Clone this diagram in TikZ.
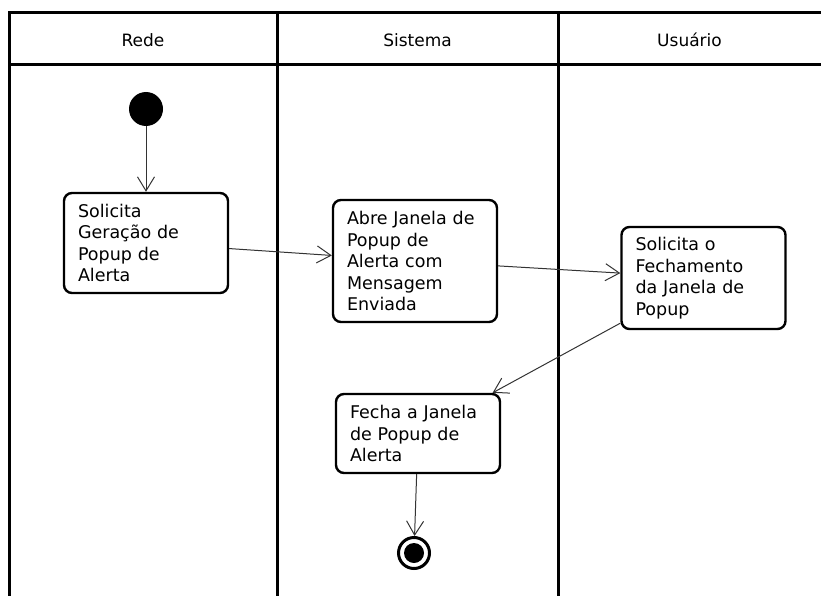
\documentclass[tikz,border=0pt]{standalone}
\usepackage{fontspec}
\setmainfont{DejaVu Sans}
\usetikzlibrary{arrows.meta}
\begin{document}
\begin{tikzpicture}[x=1pt,y=-1pt,
  lane/.style={line width=3pt},
  action/.style={draw, line width=2.4pt, rounded corners=8pt, text width=136pt,
    inner xsep=14pt, inner ysep=0pt, align=left, minimum width=164pt,
    font=\fontsize{17.5}{21.5}\selectfont},
  flow/.style={line width=1pt, draw=black!80,
    -{Straight Barb[length=14pt,width=17pt,line width=1pt]}},
  lanehead/.style={font=\fontsize{17}{20}\selectfont},
  initial/.style={circle, fill=black, minimum size=34pt, inner sep=0pt},
  final/.style={circle, draw, line width=3pt, minimum size=31pt, inner sep=0pt,
    path picture={\fill (path picture bounding box.center) circle (10pt);}},
]
\useasboundingbox (0,0) rectangle (821,596);

% swimlane frame
\draw[lane] (821,12.5) -- (9,12.5) -- (9,596);
\draw[lane] (9,65) -- (821,65);
\draw[lane] (277,12.5) -- (277,596);
\draw[lane] (558,12.5) -- (558,596);

% lane titles
\node[lanehead] (hRede) at (143,40) {Rede};
\node[lanehead] (hSistema) at (417.5,40) {Sistema};
\node[lanehead] (hUsuario) at (689.5,40) {Usuário};

% activity nodes
\node[initial] (start) at (146,109) {};
\node[action, minimum height=100pt] (b1) at (146,243)
  {Solicita\\Geração de\\Popup de\\Alerta};
\node[action, minimum height=122pt] (b2) at (415,261)
  {Abre Janela de\\Popup de\\Alerta com\\Mensagem\\Enviada};
\node[action, minimum height=102pt] (b3) at (703.5,278)
  {Solicita o\\Fechamento\\da Janela de\\Popup};
\node[action, minimum height=79pt] (b4) at (418,433.5)
  {Fecha a Janela\\de Popup de\\Alerta};
\node[final] (end) at (414,553) {};

% control flow
\draw[flow] (start) -- (b1);
\draw[flow] (b1) -- (b2);
\draw[flow] (b2) -- (b3);
\draw[flow] (b3) -- (b4);
\draw[flow] (b4) -- (end);
\end{tikzpicture}
\end{document}
